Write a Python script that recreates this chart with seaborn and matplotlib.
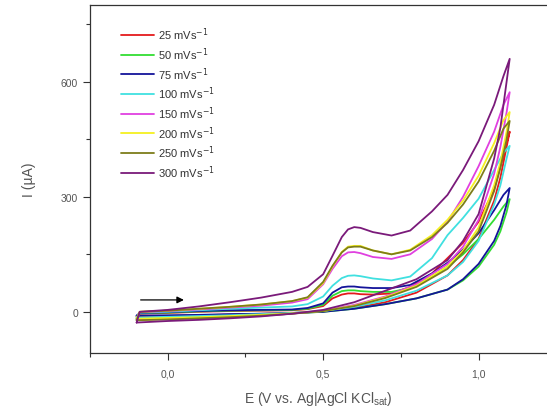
import pandas as pd
import matplotlib
matplotlib.use("Agg")
import matplotlib.pyplot as plt
from matplotlib.ticker import MultipleLocator, FuncFormatter
import seaborn as sns

# =================== DATA ===================

RATES = [25, 50, 75, 100, 150, 200, 250, 300]  # mV/s
COLORS = ['#e41a1c', '#33dd33', '#14149a', '#40e0e0', '#e040e0', '#f5f020', '#7d7d1a', '#7a1a7a']

E_FWD = [-0.10, -0.09, 0.00, 0.10, 0.20, 0.30, 0.40, 0.45, 0.50, 0.53, 0.56, 0.58, 0.60,
         0.62, 0.66, 0.72, 0.78, 0.85, 0.90, 0.95, 1.00, 1.05, 1.08, 1.10]
E_REV = [1.10, 1.09, 1.07, 1.05, 1.00, 0.95, 0.90, 0.80, 0.70, 0.60, 0.50, 0.40,
         0.30, 0.20, 0.10, 0.00, -0.10]

# forward (anodic) scans, uA
I_FWD_25 = [-12, -5, -3, 0, 2, 3, 4, 7, 15, 35, 45, 48, 48, 46, 45, 48, 65, 100, 140, 180, 235, 320, 410, 470]
I_FWD_50 = [-18, -4, -2, 1, 3, 4, 5, 8, 18, 42, 54, 56, 56, 54, 52, 52, 62, 92, 118, 150, 190, 240, 275, 294]
I_FWD_75 = [-10, -3, -1, 2, 4, 5, 6, 10, 22, 50, 64, 66, 66, 64, 62, 62, 70, 100, 128, 162, 205, 265, 305, 323]
I_FWD_100 = [-15, -2, 0, 4, 8, 11, 14, 20, 40, 68, 88, 94, 95, 93, 87, 82, 92, 140, 200, 245, 295, 370, 415, 433]
I_FWD_150 = [-20, -1, 2, 6, 11, 16, 24, 33, 72, 112, 145, 155, 156, 153, 143, 138, 150, 190, 235, 300, 380, 470, 540, 573]
I_FWD_200 = [-18, 0, 3, 8, 13, 19, 28, 37, 75, 118, 156, 170, 172, 172, 160, 150, 162, 200, 240, 290, 355, 440, 500, 521]
I_FWD_250 = [-22, 0, 3, 8, 13, 19, 28, 38, 78, 120, 155, 168, 170, 170, 160, 150, 160, 195, 232, 280, 340, 420, 478, 498]
I_FWD_300 = [-28, 0, 5, 14, 25, 37, 52, 65, 98, 146, 195, 215, 221, 219, 208, 199, 212, 262, 305, 370, 445, 540, 615, 660]

# reverse scans, uA
I_REV_25 = [470, 430, 350, 290, 190, 135, 95, 50, 25, 10, 1, -3, -5, -7, -9, -11, -12]
I_REV_50 = [294, 260, 210, 175, 118, 82, 58, 35, 20, 8, 0, -4, -7, -10, -13, -15, -18]
I_REV_75 = [323, 280, 224, 185, 125, 85, 58, 35, 20, 8, 0, -3, -5, -6, -8, -9, -10]
I_REV_100 = [433, 400, 330, 280, 185, 130, 95, 55, 30, 13, 2, -3, -6, -9, -11, -13, -15]
I_REV_150 = [573, 520, 430, 360, 240, 170, 125, 72, 40, 18, 3, -5, -10, -14, -17, -19, -20]
I_REV_200 = [521, 470, 390, 330, 220, 160, 118, 68, 38, 16, 2, -4, -8, -11, -14, -16, -18]
I_REV_250 = [498, 450, 375, 315, 210, 155, 112, 65, 36, 15, 2, -5, -10, -14, -17, -20, -22]
I_REV_300 = [660, 600, 480, 400, 255, 185, 135, 85, 55, 25, 5, -5, -12, -17, -21, -24, -28]

FWD = [I_FWD_25, I_FWD_50, I_FWD_75, I_FWD_100, I_FWD_150, I_FWD_200, I_FWD_250, I_FWD_300]
REV = [I_REV_25, I_REV_50, I_REV_75, I_REV_100, I_REV_150, I_REV_200, I_REV_250, I_REV_300]

TXT = '#555555'

# =================== HELPERS ===================

def build_frame():
    rows = []
    for rate, fwd, rev in zip(RATES, FWD, REV):
        label = f'{rate} mVs$^{{-1}}$'
        for e, i in zip(E_FWD + E_REV, fwd + rev):
            rows.append({'E': e, 'I': i, 'label': label})
    return pd.DataFrame(rows)

def comma(x, pos):
    return f'{x:.1f}'.replace('.', ',')

# =================== PLOT ===================

def main():
    sns.set_style('ticks')
    plt.rcParams['font.family'] = ['Liberation Sans', 'DejaVu Sans']
    df = build_frame()
    labels = list(df['label'].unique())

    fig = plt.figure(figsize=(5.47, 4.10), dpi=100)
    ax = fig.add_axes([0.1645, 0.137, 0.8355, 0.848])
    sns.lineplot(data=df, x='E', y='I', hue='label', hue_order=labels,
                 palette=dict(zip(labels, COLORS)), sort=False, estimator=None,
                 linewidth=1.3, ax=ax)

    ax.annotate('', xy=(0.061, 31), xytext=(-0.096, 31),
                arrowprops=dict(arrowstyle='-|>', color='black', lw=0.9,
                                mutation_scale=10))

    ax.set_xlim(-0.25, 1.22)
    ax.set_ylim(-107, 800)
    ax.xaxis.set_major_locator(MultipleLocator(0.5))
    ax.xaxis.set_minor_locator(MultipleLocator(0.25))
    ax.yaxis.set_major_locator(MultipleLocator(300))
    ax.yaxis.set_minor_locator(MultipleLocator(150))
    ax.xaxis.set_major_formatter(FuncFormatter(comma))
    ax.tick_params(which='major', direction='out', length=5, width=0.8,
                   colors='#333333', labelcolor=TXT, labelsize=7.5)
    ax.tick_params(axis='x', which='major', pad=6)
    ax.tick_params(which='minor', direction='out', length=3, width=0.8, colors='#333333')
    for side in ['left', 'bottom', 'top']:
        ax.spines[side].set_color('#333333')
        ax.spines[side].set_linewidth(0.9)
    ax.spines['right'].set_visible(False)

    ax.set_xlabel('E (V vs. Ag|AgCl KCl$_{\\mathregular{sat}}$)', fontsize=10, color=TXT, labelpad=8)
    ax.set_ylabel('I (\u00b5A)', fontsize=10, color=TXT, labelpad=18)

    ax.legend(loc='upper left', bbox_to_anchor=(0.045, 0.97), frameon=False,
              fontsize=8, handlelength=3.0, labelspacing=0.28, handletextpad=0.35,
              labelcolor='#333333')

    fig.savefig('out.png', dpi=100)
    plt.close(fig)

if __name__ == '__main__':
    main()
